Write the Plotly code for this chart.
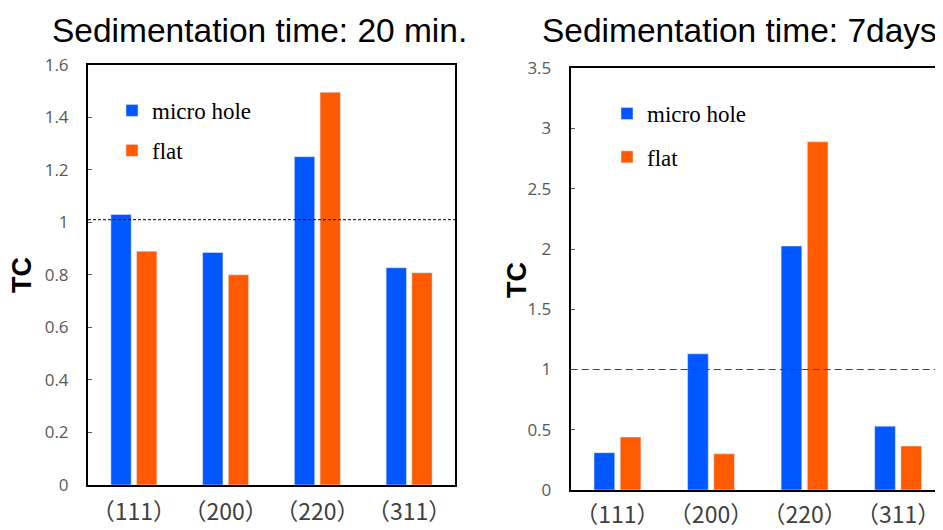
import plotly.graph_objects as go

categories = ["（111）", "（200）", "（220）", "（311）"]
series_names = ["micro hole", "flat"]

# Sedimentation time: 20 min.
micro_20min = [1.03, 0.885, 1.25, 0.827]
flat_20min = [0.89, 0.80, 1.495, 0.808]

# Sedimentation time: 7days
micro_7days = [0.31, 1.13, 2.025, 0.53]
flat_7days = [0.44, 0.30, 2.89, 0.365]

titles = ["Sedimentation time: 20 min.", "Sedimentation time: 7days"]
y_title = "TC"
ref_left = 1.01
ref_right = 1.0

BLUE = "#0057FF"
ORANGE = "#FF5A00"
OFF = 8  # page body margin
W, H = 943 - OFF, 530 - OFF

def px(x):
    return (x - OFF) / W

def py(y):
    return 1 - (y - OFF) / H

fig = go.Figure()

fig.add_trace(go.Bar(x=categories, y=micro_20min, name=series_names[0], marker_color=BLUE,
                     xaxis="x", yaxis="y", legend="legend", legendgroup="a"))
fig.add_trace(go.Bar(x=categories, y=flat_20min, name=series_names[1], marker_color=ORANGE,
                     xaxis="x", yaxis="y", legend="legend", legendgroup="b"))
fig.add_trace(go.Bar(x=categories, y=micro_7days, name=series_names[0], marker_color=BLUE,
                     xaxis="x2", yaxis="y2", legend="legend2", legendgroup="c"))
fig.add_trace(go.Bar(x=categories, y=flat_7days, name=series_names[1], marker_color=ORANGE,
                     xaxis="x2", yaxis="y2", legend="legend2", legendgroup="d"))

tickfont_y = dict(family="Open Sans", size=17, color="#595959")
tickfont_x = dict(family="Noto Sans CJK SC", size=23, color="#404040")

fig.update_layout(
    template="plotly",
    width=W, height=H,
    margin=dict(l=0, r=0, t=0, b=0, pad=0, autoexpand=False),
    paper_bgcolor="white", plot_bgcolor="white",
    barmode="group", bargap=0.44, bargroupgap=0.21,
    xaxis=dict(domain=[px(88), px(455)], anchor="y", range=[-0.5, 3.5], automargin=False,
               showline=True, linecolor="black", linewidth=2, mirror=True,
               ticks="", tickfont=tickfont_x, ticklabelstandoff=5, showgrid=False),
    yaxis=dict(domain=[py(485), py(64.7)], anchor="x", range=[0, 1.6], dtick=0.2, automargin=False,
               showline=True, linecolor="black", linewidth=2, mirror=True,
               ticks="inside", ticklen=4, tickcolor="#595959",
               tickfont=tickfont_y, ticklabelstandoff=14, showgrid=False, zeroline=False),
    xaxis2=dict(domain=[px(570.7), 1.0], anchor="y2", range=[-0.5, 3.48], automargin=False,
                showline=True, linecolor="black", linewidth=2, mirror=True,
                ticks="", tickfont=tickfont_x, ticklabelstandoff=3, showgrid=False),
    yaxis2=dict(domain=[py(490), py(68.3)], anchor="x2", range=[0, 3.5], dtick=0.5, automargin=False,
                showline=True, linecolor="black", linewidth=2, mirror=False,
                ticks="inside", ticklen=4, tickcolor="#595959",
                tickfont=tickfont_y, ticklabelstandoff=14, showgrid=False, zeroline=False),
    legend=dict(x=px(112), y=py(89), xanchor="left", yanchor="top",
                font=dict(family="Liberation Serif", size=23, color="black"),
                bgcolor="rgba(0,0,0,0)", tracegroupgap=7, borderwidth=0),
    legend2=dict(x=px(607), y=py(92), xanchor="left", yanchor="top",
                 font=dict(family="Liberation Serif", size=23, color="black"),
                 bgcolor="rgba(0,0,0,0)", tracegroupgap=10.5, borderwidth=0),
    shapes=[
        dict(type="line", xref="x domain", yref="y", x0=0, x1=1, y0=ref_left, y1=ref_left,
             line=dict(color="black", width=1, dash="3px,2px")),
        dict(type="line", xref="x2 domain", yref="y2", x0=0, x1=1, y0=ref_right, y1=ref_right,
             line=dict(color="#444444", width=1.2, dash="7px,4px")),
    ],
    annotations=[
        dict(text=titles[0], x=px(259.5), y=py(30), xref="paper", yref="paper",
             xanchor="center", yanchor="middle", showarrow=False,
             font=dict(family="Liberation Sans", size=33.5, color="black")),
        dict(text=titles[1], x=px(739), y=py(30), xref="paper", yref="paper",
             xanchor="center", yanchor="middle", showarrow=False,
             font=dict(family="Liberation Sans", size=33.5, color="black")),
        dict(text="<b>" + y_title + "</b>", x=px(22), y=py(275), xref="paper", yref="paper",
             xanchor="center", yanchor="middle", showarrow=False, textangle=-90,
             font=dict(family="Liberation Sans", size=27, color="black")),
        dict(text="<b>" + y_title + "</b>", x=px(517), y=py(280), xref="paper", yref="paper",
             xanchor="center", yanchor="middle", showarrow=False, textangle=-90,
             font=dict(family="Liberation Sans", size=27, color="black")),
    ],
)

fig.write_html("out.html")
